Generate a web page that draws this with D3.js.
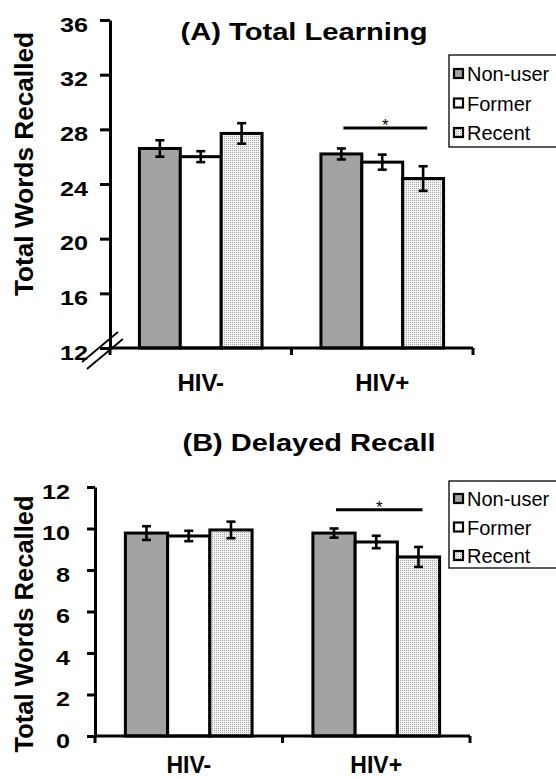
<!DOCTYPE html>
<html>
<head>
<meta charset="utf-8">
<title>Total Learning and Delayed Recall</title>
<script src="https://cdn.jsdelivr.net/npm/d3@7"></script>
<style>
body { margin: 0; background: #fff; }
svg { display: block; font-family: "Liberation Sans", Arial, sans-serif; }
</style>
</head>
<body>
<script>
// data
var groups = ["HIV-", "HIV+"];
var series = ["Non-user", "Former", "Recent"];

var learnMeans = [[26.6, 26.0, 27.7], [26.2, 25.6, 24.4]];
var learnErrs = [[0.6, 0.4, 0.75], [0.4, 0.55, 0.9]];
var learnTicks = [12, 16, 20, 24, 28, 32, 36];

var recallMeans = [[9.78, 9.64, 9.93], [9.78, 9.35, 8.63]];
var recallErrs = [[0.33, 0.25, 0.4], [0.22, 0.3, 0.48]];
var recallTicks = [0, 2, 4, 6, 8, 10, 12];

// height of the significance bar over HIV+
var sigLearn = 28.1, sigRecall = 10.9;

var width = 556, height = 779;
var svg = d3.select("body").append("svg")
    .attr("width", width)
    .attr("height", height);

// fine dotted fill for "Recent"
var pat = svg.append("defs").append("pattern")
    .attr("id", "dots")
    .attr("width", 2).attr("height", 2)
    .attr("patternUnits", "userSpaceOnUse");
pat.append("rect").attr("width", 2).attr("height", 2).attr("fill", "#f2f2f2");
pat.append("rect").attr("width", 1).attr("height", 1).attr("fill", "#a6a6a6");

var fills = ["#a3a3a3", "#ffffff", "url(#dots)"];

function drawPanel(cfg){
    var g = svg.append("g");

    var x = d3.scaleBand().domain(groups).range([cfg.x0, cfg.x1]);
    var xi = d3.scaleBand().domain(series).range([0, x.bandwidth()])
        .paddingInner(0).paddingOuter(0.72);
    var y = d3.scaleLinear().domain(cfg.domain).range([cfg.yBottom, cfg.yTop]);

    var rows = [];
    groups.forEach(function(gr, i){
        series.forEach(function(s, j){
            rows.push({group: gr, series: s, k: j, mean: cfg.means[i][j], err: cfg.errs[i][j]});
        });
    });

    // title
    g.append("text")
        .attr("x", cfg.titleX).attr("y", cfg.titleY)
        .attr("text-anchor", "middle")
        .attr("font-size", 24).attr("font-weight", "bold")
        .attr("textLength", cfg.titleLen).attr("lengthAdjust", "spacingAndGlyphs")
        .text(cfg.title);

    // y label
    g.append("text")
        .attr("transform", "translate(33," + cfg.labelMid + ") rotate(-90)")
        .attr("text-anchor", "middle")
        .attr("font-size", 25).attr("font-weight", "bold")
        .attr("textLength", cfg.labelLen).attr("lengthAdjust", "spacingAndGlyphs")
        .text("Total Words Recalled");

    // bars
    g.selectAll("rect.bar").data(rows).enter().append("rect")
        .attr("class", "bar")
        .attr("x", function(d){ return x(d.group) + xi(d.series); })
        .attr("y", function(d){ return y(d.mean); })
        .attr("width", xi.bandwidth())
        .attr("height", function(d){ return y(cfg.domain[0]) - y(d.mean); })
        .attr("fill", function(d){ return fills[d.k]; })
        .attr("stroke", "#000").attr("stroke-width", 3);

    // error bars
    var eb = g.selectAll("g.err").data(rows).enter().append("g")
        .attr("class", "err")
        .attr("transform", function(d){ return "translate(" + (x(d.group) + xi(d.series) + xi.bandwidth() / 2) + ",0)"; })
        .attr("stroke", "#000").attr("stroke-width", 2.6);
    eb.append("line")
        .attr("y1", function(d){ return y(d.mean - d.err); })
        .attr("y2", function(d){ return y(d.mean + d.err); });
    eb.append("line").attr("x1", -4.5).attr("x2", 4.5)
        .attr("y1", function(d){ return y(d.mean - d.err); })
        .attr("y2", function(d){ return y(d.mean - d.err); });
    eb.append("line").attr("x1", -4.5).attr("x2", 4.5)
        .attr("y1", function(d){ return y(d.mean + d.err); })
        .attr("y2", function(d){ return y(d.mean + d.err); });

    // y axis
    var yAxis = g.append("g")
        .attr("transform", "translate(" + cfg.x0 + ",0)")
        .call(d3.axisLeft(y).tickValues(cfg.ticks).tickSize(cfg.tickSize).tickSizeOuter(0));
    yAxis.select(".domain").attr("stroke-width", 3);
    yAxis.selectAll(".tick line").attr("stroke-width", 3);
    yAxis.selectAll(".tick text")
        .attr("font-size", 21).attr("font-weight", "bold")
        .attr("fill", "#000")
        .attr("x", -cfg.labelGap / 1.2)
        .attr("dy", "11px")
        .attr("transform", "scale(1.2,1)");

    // x axis: line, boundary ticks, group labels
    var ax = y(cfg.domain[0]);
    g.append("line")
        .attr("x1", cfg.x0).attr("x2", cfg.x1)
        .attr("y1", ax).attr("y2", ax)
        .attr("stroke", "#000").attr("stroke-width", 3);
    var bounds = groups.map(function(gr){ return x(gr); }).concat([cfg.x1]);
    g.selectAll("line.xt").data(bounds).enter().append("line")
        .attr("class", "xt")
        .attr("x1", function(d){ return d; }).attr("x2", function(d){ return d; })
        .attr("y1", ax).attr("y2", ax + 7)
        .attr("stroke", "#000").attr("stroke-width", 3);
    g.selectAll("text.grp").data(groups).enter().append("text")
        .attr("class", "grp")
        .attr("x", function(d){ return x(d) + x.bandwidth() / 2; })
        .attr("y", ax + cfg.groupDy)
        .attr("text-anchor", "middle")
        .attr("font-size", cfg.groupSize).attr("font-weight", "bold")
        .text(function(d){ return d; });

    // significance bar, HIV+ Non-user vs Recent
    var sx1 = x("HIV+") + xi("Non-user") + xi.bandwidth() / 2 + 2;
    var sx2 = x("HIV+") + xi("Recent") + xi.bandwidth() / 2 + 4;
    g.append("line")
        .attr("x1", sx1).attr("x2", sx2)
        .attr("y1", y(cfg.sig)).attr("y2", y(cfg.sig))
        .attr("stroke", "#000").attr("stroke-width", 3);
    g.append("text")
        .attr("x", (sx1 + sx2) / 2).attr("y", y(cfg.sig) + 3)
        .attr("text-anchor", "middle")
        .attr("font-size", 17)
        .text("*");

    // legend
    var lg = g.append("g");
    lg.append("rect")
        .attr("x", 449).attr("y", cfg.legY)
        .attr("width", 130).attr("height", cfg.legH)
        .attr("fill", "#fff").attr("stroke", "#000").attr("stroke-width", 1.3);
    var item = lg.selectAll("g.item").data(series).enter().append("g")
        .attr("class", "item")
        .attr("transform", function(d, i){ return "translate(0," + (cfg.legFirst + i * cfg.legStep) + ")"; });
    item.append("rect")
        .attr("x", 454).attr("y", -5).attr("width", 9).attr("height", 9)
        .attr("fill", function(d, i){ return fills[i]; })
        .attr("stroke", "#000").attr("stroke-width", 2.2);
    item.append("text")
        .attr("x", 467).attr("y", 7)
        .attr("font-size", 20)
        .text(function(d){ return d; });

    return {x: x, y: y, g: g};
}

// (A) Total Learning
var pA = drawPanel({
    title: "(A) Total Learning", titleX: 304, titleY: 40, titleLen: 247,
    means: learnMeans, errs: learnErrs, ticks: learnTicks, domain: [12, 36],
    x0: 110, x1: 473, yTop: 20, yBottom: 348, tickSize: 10, labelGap: 22,
    labelMid: 164, labelLen: 264, groupDy: 43, groupSize: 24, sig: sigLearn,
    legY: 55, legH: 92, legFirst: 74, legStep: 29.5
});

// axis break marks near the origin of panel A
var bo = [110, 348];
pA.g.selectAll("line.brk").data([0, 7]).enter().append("line")
    .attr("class", "brk")
    .attr("x1", function(d){ return bo[0] - 28 + d * 0.7; })
    .attr("y1", function(d){ return bo[1] + 14 + d; })
    .attr("x2", function(d){ return bo[0] + 8 + d * 0.7; })
    .attr("y2", function(d){ return bo[1] - 16 + d; })
    .attr("stroke", "#000").attr("stroke-width", 1.8);

// (B) Delayed Recall
drawPanel({
    title: "(B) Delayed Recall", titleX: 309, titleY: 451, titleLen: 253,
    means: recallMeans, errs: recallErrs, ticks: recallTicks, domain: [0, 12],
    x0: 95, x1: 470, yTop: 487, yBottom: 736, tickSize: 8, labelGap: 25,
    labelMid: 624, labelLen: 257, groupDy: 37, groupSize: 23, sig: sigRecall,
    legY: 481, legH: 87, legFirst: 499, legStep: 28.5
});
</script>
</body>
</html>
